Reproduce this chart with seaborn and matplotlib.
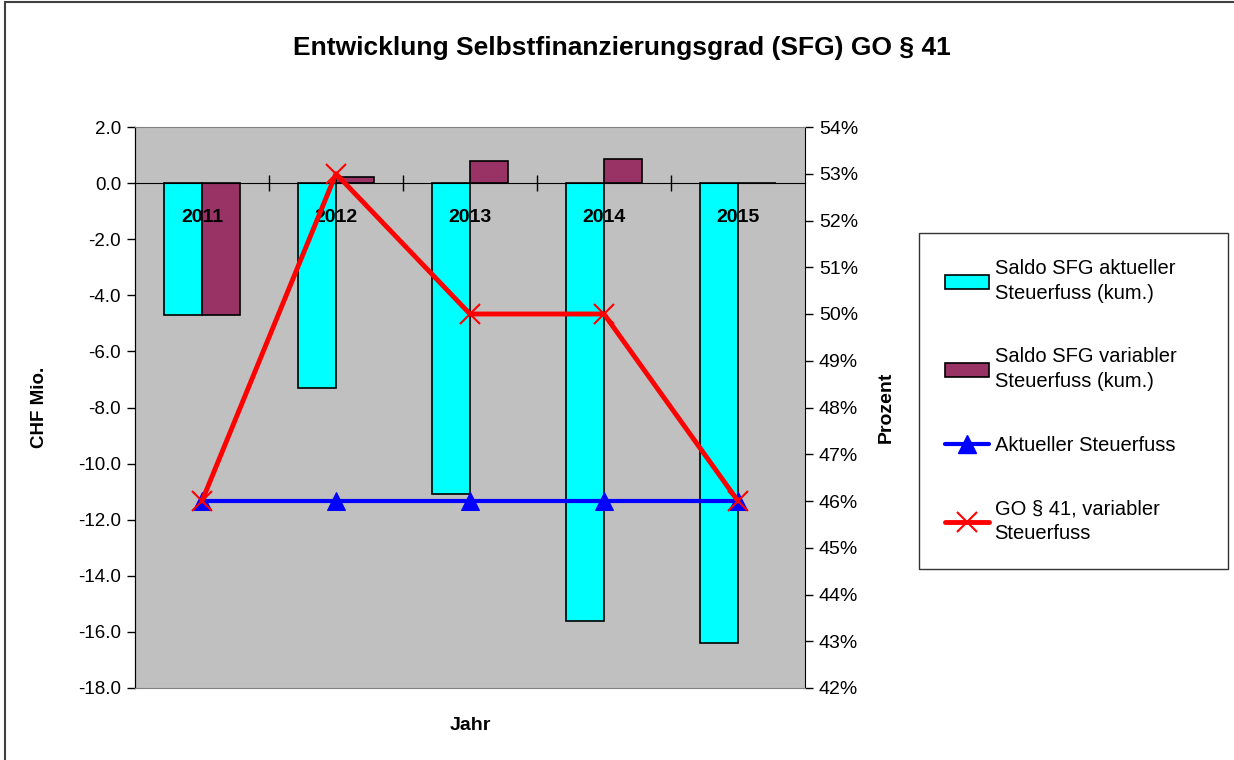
import numpy as np
import pandas as pd
import matplotlib
matplotlib.use("Agg")
import matplotlib.pyplot as plt
from matplotlib.patches import Patch, Rectangle
from matplotlib.lines import Line2D
import seaborn as sns

years = ['2011', '2012', '2013', '2014', '2015']
saldo_aktuell = [-4.7, -7.3, -11.1, -15.6, -16.4]
saldo_variabel = [-4.7, 0.2, 0.8, 0.85, 0.0]
fuss_aktuell = [46, 46, 46, 46, 46]
fuss_variabel = [46, 53, 50, 50, 46]

labels = ['Saldo SFG aktueller\nSteuerfuss (kum.)',
          'Saldo SFG variabler\nSteuerfuss (kum.)',
          'Aktueller Steuerfuss',
          'GO § 41, variabler\nSteuerfuss']

df = pd.DataFrame({
    'Jahr': years * 2,
    'Wert': saldo_aktuell + saldo_variabel,
    'Serie': [labels[0]] * len(years) + [labels[1]] * len(years),
})

sns.set_style('white')
plt.rcParams['font.family'] = ['Liberation Sans', 'DejaVu Sans']
plt.rcParams['text.color'] = 'black'
plt.rcParams['axes.labelcolor'] = 'black'
plt.rcParams['xtick.color'] = 'black'
plt.rcParams['ytick.color'] = 'black'

cyan = '#00FFFF'
maroon = '#993366'

fig = plt.figure(figsize=(12.34, 7.6), dpi=100)
ax = fig.add_axes([135 / 1234, 1 - 688 / 760, 670 / 1234, 561 / 760])
ax.set_facecolor('#C0C0C0')

sns.barplot(data=df, x='Jahr', y='Wert', hue='Serie', palette=[cyan, maroon],
            width=0.56, edgecolor='black', linewidth=1.2, saturation=1,
            legend=False, ax=ax)
ax.set_axisbelow(False)

ax.set_xlim(-0.5, len(years) - 0.5)
ax.set_ylim(-18, 2)
ax.set_yticks(np.arange(-18, 2.1, 2))
ax.set_yticklabels([f'{v:.1f}' for v in np.arange(-18, 2.1, 2)], fontsize=13.5)
ax.tick_params(axis='y', direction='out', length=6, width=1, color='black', left=True, pad=4)
ax.set_ylabel('CHF Mio.', fontsize=13.5, fontweight='bold', labelpad=22)
ax.set_xlabel('')

ax.spines['bottom'].set_position(('data', 0))
ax.spines['bottom'].set_color('black')
ax.spines['left'].set_color('black')
ax.spines['top'].set_visible(False)
ax.spines['right'].set_visible(False)
ax.set_xticks(range(len(years)))
ax.set_xticklabels(years, fontsize=14, fontweight='bold')
ax.set_xticks(np.arange(0.5, len(years) - 1, 1), minor=True)
ax.tick_params(axis='x', which='major', length=0, pad=19)
ax.tick_params(axis='x', which='minor', direction='inout', length=12, width=1, color='black', bottom=True)

ax2 = ax.twinx()
xpos = np.arange(len(years))
sns.lineplot(x=xpos, y=fuss_aktuell, color='#0000FF', linewidth=3, marker='^',
             markersize=13, markeredgecolor='#0000FF', ax=ax2)
sns.lineplot(x=xpos, y=fuss_variabel, color='#FF0000', linewidth=3.5, marker='x',
             markersize=14, markeredgewidth=1.5, markeredgecolor='#FF0000', ax=ax2)
ax2.set_xlim(-0.5, len(years) - 0.5)
ax2.set_ylim(42, 54)
pct = np.arange(42, 55, 1)
ax2.set_yticks(pct)
ax2.set_yticklabels([f'{v}%' for v in pct], fontsize=14)
ax2.tick_params(axis='y', direction='out', length=6, width=1, color='black', right=True, pad=4)
ax2.set_ylabel('Prozent', fontsize=14, fontweight='bold', labelpad=14)
for side in ['top', 'bottom']:
    ax2.spines[side].set_color('#808080')
ax2.spines['left'].set_color('black')
ax2.spines['right'].set_color('black')

fig.text(622 / 1234, 1 - 48 / 760, 'Entwicklung Selbstfinanzierungsgrad (SFG) GO § 41',
         ha='center', va='center', fontsize=19, fontweight='bold')
fig.text(470 / 1234, 1 - 725 / 760, 'Jahr', ha='center', va='center',
         fontsize=14, fontweight='bold')

handles = [
    Patch(facecolor=cyan, edgecolor='black', linewidth=1.2),
    Patch(facecolor=maroon, edgecolor='black', linewidth=1.2),
    Line2D([], [], color='#0000FF', linewidth=3, marker='^', markersize=13),
    Line2D([], [], color='#FF0000', linewidth=3.5, marker='x', markersize=14, markeredgewidth=1.5),
]
leg = fig.legend(handles, labels, loc='upper left',
                 bbox_to_anchor=(919 / 1234, 1 - 233 / 760 - 0.01, 309 / 1234, 0.01),
                 mode='expand', fontsize=14.5,
                 frameon=True, fancybox=False, edgecolor='black',
                 labelspacing=2.2, handlelength=2.2, handletextpad=0.25,
                 borderpad=1.3, borderaxespad=0)
leg.get_frame().set_linewidth(1)
for t in leg.get_texts():
    t.set_linespacing(1.4)

fig.patches.append(Rectangle((5 / 1234, -0.1), 1.2, 1.1 - 2 / 760,
                             transform=fig.transFigure, fill=False,
                             edgecolor='#404040', linewidth=1.5))

fig.savefig('out.png', dpi=100)
